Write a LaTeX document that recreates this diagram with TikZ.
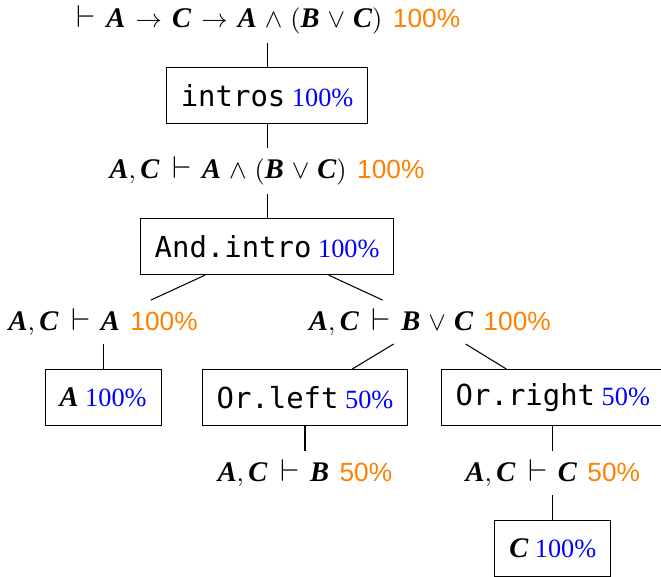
\documentclass[tikz,border=0pt]{standalone}
\usepackage{fontspec}
\setmainfont{Liberation Serif}
\setmonofont[Scale=1.1]{DejaVu Sans Mono}
\newfontfamily\pctfont{Liberation Sans}
\newfontfamily\varfont[Scale=1.08]{Liberation Serif}
\usetikzlibrary{positioning}
\newcommand\va[1]{\mbox{\varfont\bfseries\itshape #1}}
\newcommand\ent{\mathrel{\mkern2mu\scalebox{1.2}{$\vdash$}}}
\newcommand\gp[1]{ \kern1.5pt\textcolor{orange}{\pctfont #1\%}}
\newcommand\tp[1]{ \textcolor{blue}{#1\%}}
\thickmuskip=7mu plus 5mu
\medmuskip=5.5mu plus 2mu minus 4mu

\begin{document}
\begin{tikzpicture}[
on grid,
node distance=28.7pt,
goal/.style={inner sep=3pt},
tactic/.style={
draw,
inner xsep=5.5pt,
minimum height=21.3pt}
]

\useasboundingbox (-101.5pt,7.6pt) rectangle (149.7pt,-211.3pt);

\node[goal] (g0) {$\ent \va{A} \to \va{C} \to \va{A} \wedge (\va{B} \vee \va{C})$\gp{100}};
\node[tactic,below=of g0] (t1) {\texttt{intros}\tp{100}};
\node[goal,below=of t1] (g1) {$\va{A},\va{C} \ent \va{A} \wedge (\va{B} \vee \va{C})$\gp{100}};
\node[tactic,below=of g1] (t2) {\texttt{And.intro}\tp{100}};
\node[goal,below left=28.7pt and 62.3pt of t2] (g2) {$\va{A},\va{C} \ent \va{A}$\gp{100}};
\node[goal,below right=28.7pt and 61.9pt of t2] (g3) {$\va{A},\va{C} \ent \va{B} \vee \va{C}$\gp{100}};
\node[tactic,below=of g2] (t3) {$\va{A}$\tp{100}};
\node[tactic,below left=28.7pt and 47.5pt of g3] (t4) {\texttt{Or.left}\tp{50}};
\node[tactic,below right=28.7pt and 46.7pt of g3] (t5) {\texttt{Or.right}\tp{50}};
\node[goal,below=of t4] (g4) {$\va{A},\va{C} \ent \va{B}$\gp{50}};
\node[goal,below=of t5] (g5) {$\va{A},\va{C} \ent \va{C}$\gp{50}};
\node[tactic,below=of g5] (t6) {$\va{C}$\tp{100}};

\foreach \a/\b in {g0/t1,t1/g1,g1/t2,t2/g2,t2/g3,g2/t3,g3/t4,g3/t5,t4/g4,t5/g5,g5/t6}
\draw (\a)--(\b);

\end{tikzpicture}
\end{document}
